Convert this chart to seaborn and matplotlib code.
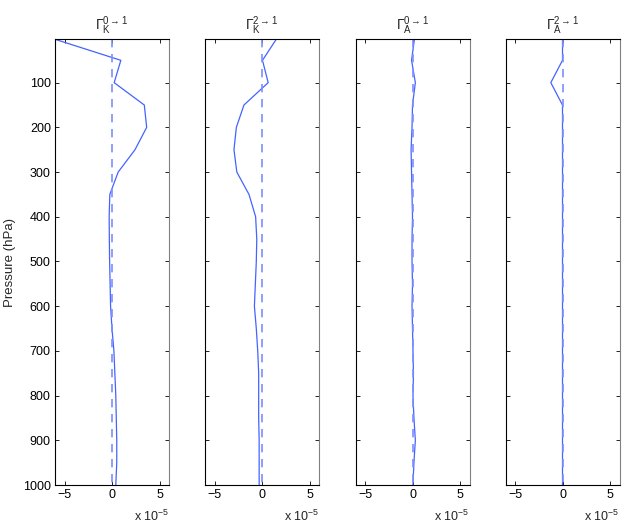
import numpy as np
import pandas as pd
import matplotlib
matplotlib.use('Agg')
import matplotlib.pyplot as plt
import seaborn as sns

# --- datos (unidades de 1e-5) ---
pressure = [3, 50, 100, 150, 200, 250, 300, 350, 400, 450, 500, 550,
            600, 650, 700, 750, 800, 850, 900, 950, 1000]

gamma_k_01 = [-6.0, 0.93, 0.23, 3.4, 3.65, 2.42, 0.65, -0.23, -0.3, -0.28, -0.25, -0.2,
              -0.15, 0.0, 0.2, 0.3, 0.4, 0.45, 0.5, 0.5, 0.4]
gamma_k_21 = [1.5, 0.05, 0.65, -1.9, -2.7, -2.95, -2.65, -1.37, -0.67, -0.55, -0.6, -0.7,
              -0.8, -0.6, -0.45, -0.35, -0.35, -0.35, -0.3, -0.3, -0.3]
gamma_a_01 = [0.2, -0.1, 0.3, 0.0, -0.05, -0.15, -0.1, -0.05, 0.0, -0.05, -0.05, 0.0,
              -0.05, 0.0, 0.05, 0.1, 0.05, 0.15, 0.3, 0.15, 0.05]
gamma_a_21 = [0.0, 0.0, -1.23, 0.0, 0.0, 0.0, 0.0, 0.0, 0.0, 0.0, 0.0, 0.0,
              0.0, 0.0, 0.0, 0.0, 0.0, 0.0, 0.0, 0.0, 0.0]

titulos = [r'$\Gamma_{\mathrm{K}}^{0\rightarrow1}$', r'$\Gamma_{\mathrm{K}}^{2\rightarrow1}$',
           r'$\Gamma_{\mathrm{A}}^{0\rightarrow1}$', r'$\Gamma_{\mathrm{A}}^{2\rightarrow1}$']
series = [gamma_k_01, gamma_k_21, gamma_a_01, gamma_a_21]
xticks = [-5, 0, 5]
yticks = [100, 200, 300, 400, 500, 600, 700, 800, 900, 1000]

sns.set_style('ticks')
plt.rcParams['font.family'] = ['Liberation Sans', 'DejaVu Sans']
plt.rcParams['mathtext.fontset'] = 'custom'
plt.rcParams['mathtext.rm'] = 'Liberation Sans'
plt.rcParams['mathtext.it'] = 'Liberation Sans:italic'

color_linea = '#4463ff'
color_cero = '#7d8fff'

fig = plt.figure(figsize=(6.23, 5.23), dpi=100)
W, H = 623, 523
lefts = [55, 205, 355.5, 505.5]
for i, (vals, titulo) in enumerate(zip(series, titulos)):
    ax = fig.add_axes([lefts[i] / W, (H - 485) / H, 114 / W, 445.7 / H])
    df = pd.DataFrame({'p': pressure, 'g': vals})
    sns.lineplot(data=df, x='g', y='p', orient='y', ax=ax, color=color_linea,
                 linewidth=0.9)
    sns.lineplot(x=[0] * len(pressure), y=pressure, orient='y', ax=ax,
                 color=color_cero, linewidth=1.2, dashes=False)
    ax.lines[-1].set_dashes((5, 4))
    ax.set_xlim(-6, 6)
    ax.set_ylim(1000, 3)
    ax.set_xticks(xticks)
    ax.set_yticks(yticks)
    ax.tick_params(direction='in', length=3, width=0.6, top=True, right=True,
                   labelsize=9, pad=3, colors='black')
    ax.set_xlabel('')
    if i == 0:
        ax.set_ylabel('Pressure (hPa)', fontsize=9.5, labelpad=5)
    else:
        ax.set_ylabel('')
        ax.set_yticklabels([])
    ax.set_title(titulo, fontsize=10, pad=7)
    for s in ['left', 'bottom', 'top']:
        ax.spines[s].set_color('black')
        ax.spines[s].set_linewidth(0.8)
    ax.spines['right'].set_color('#808080')
    ax.spines['right'].set_linewidth(0.8)
    ax.text(1.0, -0.07, r'x 10$^{-5}$', transform=ax.transAxes, ha='right',
            va='center', fontsize=9)
    if ax.get_legend() is not None:
        ax.get_legend().remove()

fig.savefig('out.png', dpi=100)
